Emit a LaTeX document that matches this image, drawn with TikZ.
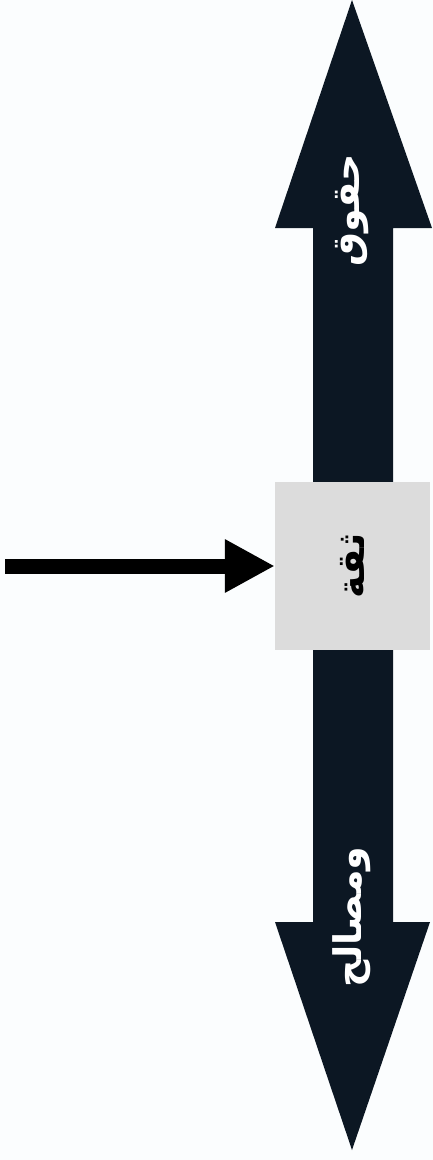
\documentclass[tikz,border=0pt]{standalone}
\usepackage{fontspec}
\newfontfamily\arabicfont[Script=Arabic]{DejaVu Sans}
\TeXXeTstate=1
\usetikzlibrary{arrows.meta}
\definecolor{navy}{HTML}{0C1723}
\definecolor{bgc}{HTML}{FBFDFE}
\definecolor{boxgray}{HTML}{DCDCDC}
\tikzset{
  bigarrow/.style={fill=navy},
  centerbox/.style={fill=boxgray, minimum width=155, minimum height=168, inner sep=0pt},
  armlabel/.style={text=white, font=\arabicfont\bfseries\fontsize{38}{40}\selectfont, rotate=90, inner sep=0pt},
  pointer/.style={draw=black, line width=15pt, -{Triangle[length=50pt,width=50pt]}}
}
\begin{document}
\begin{tikzpicture}[x=1pt,y=-1pt]
\fill[bgc] (0,0) rectangle (433,1160);
\useasboundingbox (0,0) rectangle (433,1160);
\fill[bigarrow] (352,0) -- (432,228) -- (393,228) -- (393,922) -- (430,922) -- (352,1150)
  -- (275,922) -- (313,922) -- (313,228) -- (275,228) -- cycle;
\node[centerbox] (box) at (352.5,566) {\rotatebox{90}{\arabicfont\bfseries\fontsize{38}{40}\selectfont\beginR ثقة\endR}};
\node[armlabel] (top) at (352,210) {\beginR حقوق\endR};
\node[armlabel] (bottom) at (352,917) {\beginR ومصالح\endR};
\coordinate (start) at (5,566);
\draw[pointer] (start) -- (box.west);
\end{tikzpicture}
\end{document}
